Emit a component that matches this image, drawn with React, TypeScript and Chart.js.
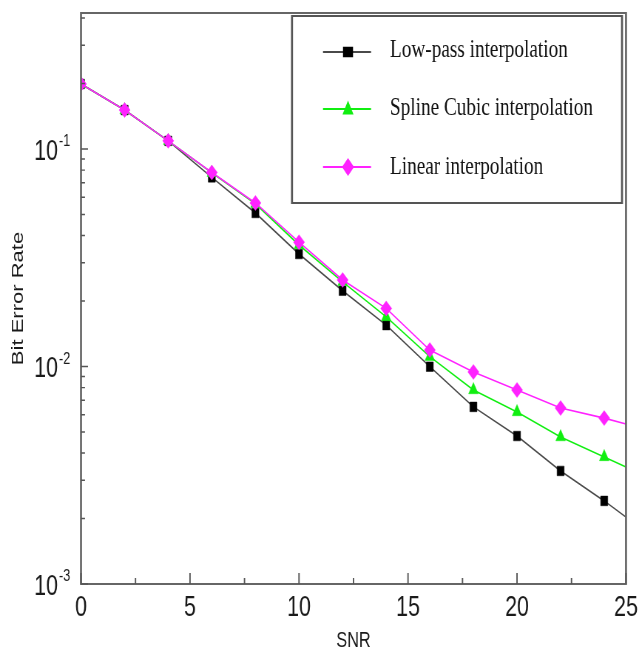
import React, { useEffect, useRef } from 'react';
import { Chart, registerables } from 'chart.js';

Chart.register(...registerables);

// ---- data ----
const snr = [0, 2, 4, 6, 8, 10, 12, 14, 16, 18, 20, 22, 24, 25];
const lowPass = [0.199, 0.151, 0.109, 0.0741, 0.0508, 0.0329, 0.0223, 0.0155, 0.00998, 0.00652, 0.00479, 0.00331, 0.00241, 0.00203];
const splineCubic = [0.199, 0.151, 0.109, 0.0778, 0.056, 0.0362, 0.0245, 0.0169, 0.0111, 0.0078, 0.00618, 0.00474, 0.00384, 0.00345];
const linearInterp = [0.199, 0.151, 0.109, 0.078, 0.0565, 0.0373, 0.025, 0.0185, 0.0119, 0.00944, 0.0078, 0.00644, 0.00579, 0.00544];
const markerless = [25];
const seriesNames = ['Low-pass interpolation', 'Spline Cubic interpolation', 'Linear interpolation'];
const xTickValues = [0, 5, 10, 15, 20, 25];
const xMinorTickValues = [2.5, 7.5, 12.5, 17.5, 22.5];
const yDecades = [1e-3, 1e-2, 1e-1];
const yExponents = ['-3', '-2', '-1'];
const yMinorMultipliers = [2, 3, 4, 5, 6, 7, 8, 9];
const yMin = 0.001;
const yMax = 0.422;
const xTitle = 'SNR';
const yTitle = 'Bit Error Rate';

// ---- layout (the reference is horizontally condensed) ----
const OUT_W = 639;
const OUT_H = 652;
const SX = 0.74;
const W = Math.round(OUT_W / SX);
const K = OUT_W / W; // real px per logical px
const L = (px: number) => px / K;
const SANS = "'Liberation Sans', Arial, sans-serif";
const SERIF = "'Liberation Serif', 'Times New Roman', serif";

const COLORS = {
  lowLine: '#4a4a4a',
  lowMark: '#000000',
  spline: '#11ee11',
  linear: '#ff22ff',
  frame: '#666666',
  text: '#1a1a1a',
};

function drawMarker(ctx: CanvasRenderingContext2D, kind: string, x: number, y: number, w: number, h: number, color: string) {
  ctx.fillStyle = color;
  ctx.beginPath();
  if (kind === 'square') {
    ctx.rect(x - w / 2, y - h / 2, w, h);
  } else if (kind === 'triangle') {
    ctx.moveTo(x, y - h * 0.6);
    ctx.lineTo(x + w / 2, y + h * 0.4);
    ctx.lineTo(x - w / 2, y + h * 0.4);
    ctx.closePath();
  } else {
    ctx.moveTo(x, y - h / 2);
    ctx.lineTo(x + w / 2, y);
    ctx.lineTo(x, y + h / 2);
    ctx.lineTo(x - w / 2, y);
    ctx.closePath();
  }
  ctx.fill();
}

const framePlugin = {
  id: 'framePlugin',
  afterDraw(chart: any) {
    const { ctx, chartArea: a, scales } = chart;
    const xs = scales.x;
    const ys = scales.y;
    ctx.save();
    // frame
    ctx.strokeStyle = COLORS.frame;
    ctx.lineWidth = 2;
    ctx.beginPath();
    ctx.moveTo(a.left, a.top);
    ctx.lineTo(a.right, a.top);
    ctx.moveTo(a.left, a.bottom);
    ctx.lineTo(a.right, a.bottom);
    ctx.stroke();
    ctx.lineWidth = L(2);
    ctx.beginPath();
    ctx.moveTo(a.left, a.top - 1);
    ctx.lineTo(a.left, a.bottom + 1);
    ctx.moveTo(a.right, a.top - 1);
    ctx.lineTo(a.right, a.bottom + 1);
    ctx.stroke();

    // x ticks (inward)
    ctx.lineWidth = L(1.4);
    ctx.strokeStyle = '#555';
    ctx.beginPath();
    xTickValues.forEach((v) => {
      const px = xs.getPixelForValue(v);
      ctx.moveTo(px, a.bottom);
      ctx.lineTo(px, a.bottom - 11);
    });
    xMinorTickValues.forEach((v) => {
      const px = xs.getPixelForValue(v);
      ctx.moveTo(px, a.bottom);
      ctx.lineTo(px, a.bottom - 6);
    });
    ctx.stroke();

    // y ticks (inward)
    ctx.lineWidth = 1.4;
    ctx.beginPath();
    yDecades.forEach((d) => {
      const py = ys.getPixelForValue(d);
      ctx.moveTo(a.left, py);
      ctx.lineTo(a.left + L(7), py);
      yMinorMultipliers.forEach((m) => {
        const v = d * m;
        if (v > yMax) return;
        const p = ys.getPixelForValue(v);
        ctx.moveTo(a.left, p);
        ctx.lineTo(a.left + L(4), p);
      });
    });
    ctx.stroke();

    // y tick labels 10^n
    ctx.fillStyle = COLORS.text;
    yDecades.forEach((d, i) => {
      const py = ys.getPixelForValue(d);
      ctx.font = `29px ${SANS}`;
      ctx.textAlign = 'right';
      ctx.textBaseline = 'alphabetic';
      ctx.fillText('10', L(58), py + 10.5);
      ctx.font = `17px ${SANS}`;
      ctx.textAlign = 'left';
      ctx.fillText(yExponents[i], L(59), py - 3);
    });

    // legend
    const bx0 = L(292), bx1 = L(622), by0 = 16, by1 = 203;
    ctx.fillStyle = '#ffffff';
    ctx.fillRect(bx0, by0, bx1 - bx0, by1 - by0);
    ctx.strokeStyle = '#555';
    ctx.lineWidth = 2;
    ctx.beginPath();
    ctx.moveTo(bx0, by0); ctx.lineTo(bx1, by0);
    ctx.moveTo(bx0, by1); ctx.lineTo(bx1, by1);
    ctx.stroke();
    ctx.lineWidth = L(2);
    ctx.beginPath();
    ctx.moveTo(bx0, by0 - 1); ctx.lineTo(bx0, by1 + 1);
    ctx.moveTo(bx1, by0 - 1); ctx.lineTo(bx1, by1 + 1);
    ctx.stroke();

    const rows = [
      { y: 52, base: 57, line: COLORS.lowLine, mark: COLORS.lowMark, kind: 'square', w: L(10), h: 10.5 },
      { y: 109, base: 115, line: COLORS.spline, mark: COLORS.spline, kind: 'triangle', w: L(11), h: 14 },
      { y: 167, base: 174, line: COLORS.linear, mark: COLORS.linear, kind: 'diamond', w: L(12), h: 18 },
    ];
    rows.forEach((r, i) => {
      ctx.strokeStyle = r.line;
      ctx.lineWidth = 2;
      ctx.beginPath();
      ctx.moveTo(L(323), r.y);
      ctx.lineTo(L(371), r.y);
      ctx.stroke();
      drawMarker(ctx, r.kind, L(348), r.y, r.w, r.h, r.mark);
      ctx.fillStyle = '#111';
      ctx.font = `26px ${SERIF}`;
      ctx.textAlign = 'left';
      ctx.textBaseline = 'alphabetic';
      ctx.fillText(seriesNames[i], L(390), r.base);
    });
    ctx.restore();
  },
};

function radii(r: number) {
  return snr.map((v) => (markerless.includes(v) ? 0 : r));
}

export default function App() {
  const canvasRef = useRef<HTMLCanvasElement | null>(null);

  useEffect(() => {
    const canvas = canvasRef.current;
    if (!canvas) return;
    const chart = new Chart(canvas, {
      type: 'line',
      data: {
        datasets: [
          {
            label: seriesNames[0],
            data: snr.map((x, i) => ({ x, y: lowPass[i] })),
            borderColor: COLORS.lowLine,
            backgroundColor: COLORS.lowMark,
            pointBorderColor: COLORS.lowMark,
            pointBackgroundColor: COLORS.lowMark,
            borderWidth: 1.6,
            pointStyle: 'rect',
            pointRadius: radii(6.8),
            pointBorderWidth: 0.5,
            tension: 0,
            order: 3,
          },
          {
            label: seriesNames[1],
            data: snr.map((x, i) => ({ x, y: splineCubic[i] })),
            borderColor: COLORS.spline,
            backgroundColor: COLORS.spline,
            pointBorderColor: COLORS.spline,
            pointBackgroundColor: COLORS.spline,
            borderWidth: 1.6,
            pointStyle: 'triangle',
            pointRadius: radii(7.5),
            pointBorderWidth: 0.5,
            tension: 0,
            order: 2,
          },
          {
            label: seriesNames[2],
            data: snr.map((x, i) => ({ x, y: linearInterp[i] })),
            borderColor: COLORS.linear,
            backgroundColor: COLORS.linear,
            pointBorderColor: COLORS.linear,
            pointBackgroundColor: COLORS.linear,
            borderWidth: 1.6,
            pointStyle: 'rectRot',
            pointRadius: radii(7.5),
            pointBorderWidth: 0.5,
            tension: 0,
            order: 1,
          },
        ],
      },
      options: {
        responsive: false,
        animation: false,
        devicePixelRatio: 1,
        layout: { padding: { top: 13, right: W - L(626), left: 0, bottom: 0 } },
        plugins: {
          legend: { display: false },
          tooltip: { enabled: false },
        },
        scales: {
          x: {
            type: 'linear',
            min: 0,
            max: 25,
            afterFit: (s: any) => {
              s.height = OUT_H - 584;
              s.paddingLeft = 0;
              s.paddingRight = 0;
            },
            afterBuildTicks: (s: any) => {
              s.ticks = xTickValues.map((v) => ({ value: v }));
            },
            grid: { display: false, drawTicks: false },
            border: { display: false },
            ticks: {
              font: { family: SANS, size: 29 },
              color: COLORS.text,
              padding: 7,
              maxRotation: 0,
              autoSkip: false,
            },
            title: {
              display: true,
              text: xTitle,
              color: COLORS.text,
              font: { family: SANS, size: 22, lineHeight: 1 },
              padding: { top: 0, bottom: 0 },
            },
          },
          y: {
            type: 'logarithmic',
            min: yMin,
            max: yMax,
            afterFit: (s: any) => {
              s.width = L(81);
              s.paddingTop = 0;
              s.paddingBottom = 0;
            },
            grid: { display: false, drawTicks: false },
            border: { display: false },
            ticks: { display: false },
            title: {
              display: true,
              text: yTitle,
              color: COLORS.text,
              font: { family: SANS, size: 22, lineHeight: 1 },
              padding: { top: 14, bottom: 0 },
            },
          },
        },
      } as any,
      plugins: [framePlugin],
    });
    return () => chart.destroy();
  }, []);

  return (
    <div style={{ position: 'fixed', left: 0, top: 0, width: OUT_W, height: OUT_H, background: '#fff' }}>
      <canvas
        ref={canvasRef}
        width={W}
        height={OUT_H}
        style={{ width: `${OUT_W}px`, height: `${OUT_H}px`, display: 'block' }}
      />
    </div>
  );
}
